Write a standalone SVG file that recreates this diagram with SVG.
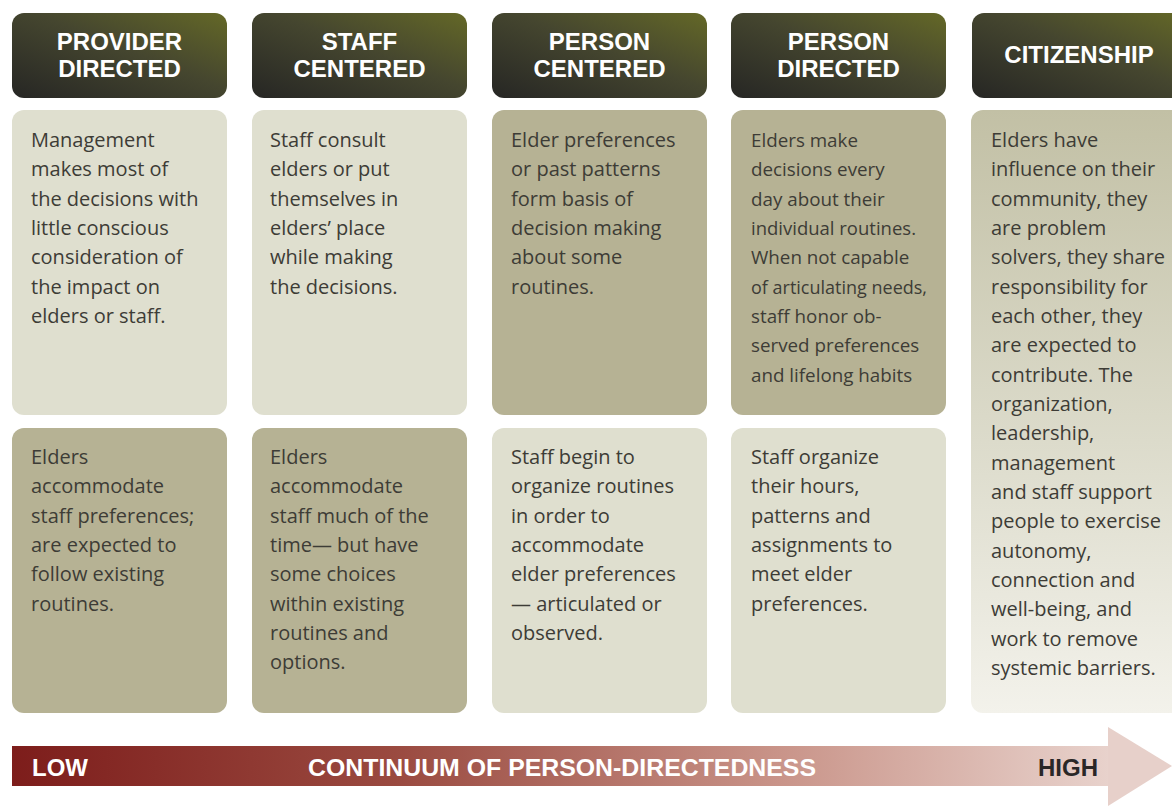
<svg xmlns="http://www.w3.org/2000/svg" width="1172" height="806" viewBox="0 0 1172 806">
  <defs>
    <linearGradient id="hdr" x1="0" y1="1" x2="1" y2="0">
      <stop offset="0" stop-color="#262624"/>
      <stop offset="0.55" stop-color="#45462f"/>
      <stop offset="1" stop-color="#646827"/>
    </linearGradient>
    <linearGradient id="cit" x1="0" y1="0" x2="0" y2="1">
      <stop offset="0" stop-color="#c2c0a5"/>
      <stop offset="0.55" stop-color="#dcdbcb"/>
      <stop offset="1" stop-color="#f3f2eb"/>
    </linearGradient>
    <linearGradient id="bar" x1="0" y1="0" x2="1" y2="0">
      <stop offset="0" stop-color="#7d1d1b"/>
      <stop offset="0.35" stop-color="#9a4a40"/>
      <stop offset="0.7" stop-color="#c99489"/>
      <stop offset="1" stop-color="#e8d2cc"/>
    </linearGradient>
    <style>
      .hdr { fill: url(#hdr); }
      .light { fill: #dfdfcf; }
      .dark { fill: #b6b294; }
      .cit { fill: url(#cit); }
      .ht { font-family: "Liberation Sans", Arial, sans-serif; font-weight: bold; font-size: 24px; fill: #ffffff; text-anchor: middle; }
      .bt { font-family: "Open Sans", "Liberation Sans", sans-serif; font-size: 20px; fill: #3d3c36; }
      .cond { font-size: 18.8px; }
      .bar { font-family: "Liberation Sans", Arial, sans-serif; font-weight: bold; font-size: 24px; }
    </style>
  </defs>

  <!-- Column 1: Provider Directed -->
  <g id="provider-directed">
    <rect class="hdr" x="12" y="13" width="215" height="85" rx="12"/>
    <text class="ht" x="119.5"><tspan x="119.5" y="50">PROVIDER</tspan><tspan x="119.5" y="77">DIRECTED</tspan></text>
    <rect class="light" x="12" y="110" width="215" height="305" rx="12"/>
    <text class="bt">
      <tspan x="31" y="147">Management</tspan>
      <tspan x="31" y="176.3">makes most of</tspan>
      <tspan x="31" y="205.7">the decisions with</tspan>
      <tspan x="31" y="235">little conscious</tspan>
      <tspan x="31" y="264.3">consideration of</tspan>
      <tspan x="31" y="293.7">the impact on</tspan>
      <tspan x="31" y="323">elders or staff.</tspan>
    </text>
    <rect class="dark" x="12" y="428" width="215" height="285" rx="12"/>
    <text class="bt">
      <tspan x="31" y="464">Elders</tspan>
      <tspan x="31" y="493.3">accommodate</tspan>
      <tspan x="31" y="522.7">staff preferences;</tspan>
      <tspan x="31" y="552">are expected to</tspan>
      <tspan x="31" y="581.3">follow existing</tspan>
      <tspan x="31" y="610.7">routines.</tspan>
    </text>
  </g>

  <!-- Column 2: Staff Centered -->
  <g id="staff-centered">
    <rect class="hdr" x="252" y="13" width="215" height="85" rx="12"/>
    <text class="ht"><tspan x="359.5" y="50">STAFF</tspan><tspan x="359.5" y="77">CENTERED</tspan></text>
    <rect class="light" x="252" y="110" width="215" height="305" rx="12"/>
    <text class="bt">
      <tspan x="270" y="147">Staff consult</tspan>
      <tspan x="270" y="176.3">elders or put</tspan>
      <tspan x="270" y="205.7">themselves in</tspan>
      <tspan x="270" y="235">elders’ place</tspan>
      <tspan x="270" y="264.3">while making</tspan>
      <tspan x="270" y="293.7">the decisions.</tspan>
    </text>
    <rect class="dark" x="252" y="428" width="215" height="285" rx="12"/>
    <text class="bt">
      <tspan x="270" y="464">Elders</tspan>
      <tspan x="270" y="493.3">accommodate</tspan>
      <tspan x="270" y="522.7">staff much of the</tspan>
      <tspan x="270" y="552">time— but have</tspan>
      <tspan x="270" y="581.3">some choices</tspan>
      <tspan x="270" y="610.7">within existing</tspan>
      <tspan x="270" y="640">routines and</tspan>
      <tspan x="270" y="669.3">options.</tspan>
    </text>
  </g>

  <!-- Column 3: Person Centered -->
  <g id="person-centered">
    <rect class="hdr" x="492" y="13" width="215" height="85" rx="12"/>
    <text class="ht"><tspan x="599.5" y="50">PERSON</tspan><tspan x="599.5" y="77">CENTERED</tspan></text>
    <rect class="dark" x="492" y="110" width="215" height="305" rx="12"/>
    <text class="bt">
      <tspan x="511" y="147">Elder preferences</tspan>
      <tspan x="511" y="176.3">or past patterns</tspan>
      <tspan x="511" y="205.7">form basis of</tspan>
      <tspan x="511" y="235">decision making</tspan>
      <tspan x="511" y="264.3">about some</tspan>
      <tspan x="511" y="293.7">routines.</tspan>
    </text>
    <rect class="light" x="492" y="428" width="215" height="285" rx="12"/>
    <text class="bt">
      <tspan x="511" y="464">Staff begin to</tspan>
      <tspan x="511" y="493.3">organize routines</tspan>
      <tspan x="511" y="522.7">in order to</tspan>
      <tspan x="511" y="552">accommodate</tspan>
      <tspan x="511" y="581.3">elder preferences</tspan>
      <tspan x="511" y="610.7">— articulated or</tspan>
      <tspan x="511" y="640">observed.</tspan>
    </text>
  </g>

  <!-- Column 4: Person Directed -->
  <g id="person-directed">
    <rect class="hdr" x="731" y="13" width="215" height="85" rx="12"/>
    <text class="ht"><tspan x="838.5" y="50">PERSON</tspan><tspan x="838.5" y="77">DIRECTED</tspan></text>
    <rect class="dark" x="731" y="110" width="215" height="305" rx="12"/>
    <text class="bt cond">
      <tspan x="751" y="147">Elders make</tspan>
      <tspan x="751" y="176.3">decisions every</tspan>
      <tspan x="751" y="205.7">day about their</tspan>
      <tspan x="751" y="235" textLength="165" lengthAdjust="spacingAndGlyphs">individual routines.</tspan>
      <tspan x="751" y="264.3">When not capable</tspan>
      <tspan x="751" y="293.7" textLength="176" lengthAdjust="spacingAndGlyphs">of articulating needs,</tspan>
      <tspan x="751" y="323">staff honor ob-</tspan>
      <tspan x="751" y="352.3">served preferences</tspan>
      <tspan x="751" y="381.7">and lifelong habits</tspan>
    </text>
    <rect class="light" x="731" y="428" width="215" height="285" rx="12"/>
    <text class="bt">
      <tspan x="751" y="464">Staff organize</tspan>
      <tspan x="751" y="493.3">their hours,</tspan>
      <tspan x="751" y="522.7">patterns and</tspan>
      <tspan x="751" y="552">assignments to</tspan>
      <tspan x="751" y="581.3">meet elder</tspan>
      <tspan x="751" y="610.7">preferences.</tspan>
    </text>
  </g>

  <!-- Column 5: Citizenship -->
  <g id="citizenship">
    <rect class="hdr" x="972" y="13" width="215" height="85" rx="12"/>
    <text class="ht"><tspan x="1079" y="63">CITIZENSHIP</tspan></text>
    <rect class="cit" x="971" y="110" width="216" height="603" rx="12"/>
    <text class="bt">
      <tspan x="991" y="147">Elders have</tspan>
      <tspan x="991" y="176.3">influence on their</tspan>
      <tspan x="991" y="205.7">community, they</tspan>
      <tspan x="991" y="235">are problem</tspan>
      <tspan x="991" y="264.3">solvers, they share</tspan>
      <tspan x="991" y="293.7">responsibility for</tspan>
      <tspan x="991" y="323">each other, they</tspan>
      <tspan x="991" y="352.3">are expected to</tspan>
      <tspan x="991" y="381.7">contribute. The</tspan>
      <tspan x="991" y="411">organization,</tspan>
      <tspan x="991" y="440.3">leadership,</tspan>
      <tspan x="991" y="469.7">management</tspan>
      <tspan x="991" y="499">and staff support</tspan>
      <tspan x="991" y="528.3">people to exercise</tspan>
      <tspan x="991" y="557.7">autonomy,</tspan>
      <tspan x="991" y="587">connection and</tspan>
      <tspan x="991" y="616.3">well-being, and</tspan>
      <tspan x="991" y="645.7">work to remove</tspan>
      <tspan x="991" y="675">systemic barriers.</tspan>
    </text>
  </g>

  <!-- Continuum arrow -->
  <g id="continuum">
    <rect x="12" y="746" width="1097" height="40" fill="url(#bar)"/>
    <polygon points="1108,727 1172,766 1108,806" fill="#e7d0ca"/>
    <text class="bar" x="32" y="776" fill="#ffffff">LOW</text>
    <text class="bar" x="308" y="776" fill="#ffffff" textLength="508" lengthAdjust="spacingAndGlyphs">CONTINUUM OF PERSON-DIRECTEDNESS</text>
    <text class="bar" x="1038" y="776" fill="#2a2727">HIGH</text>
  </g>
</svg>
